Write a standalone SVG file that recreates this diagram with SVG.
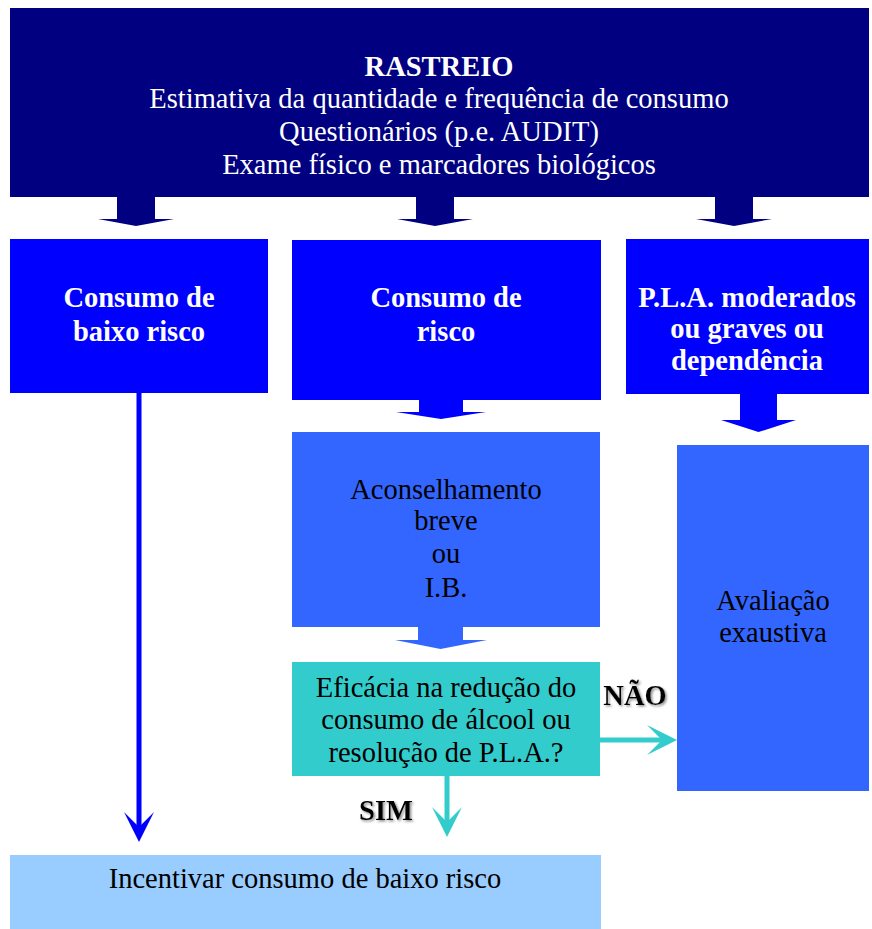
<svg xmlns="http://www.w3.org/2000/svg" width="872" height="929" viewBox="0 0 872 929">
<style>
text{font-family:"Liberation Serif","Times New Roman",serif;font-size:28.5px;text-anchor:middle}
.w{fill:#FFFFFF}
.b{font-weight:bold}
.k{fill:#000000}
.shd{filter:url(#shadow)}
</style>
<defs>
<filter id="shadow" x="-10%" y="-20%" width="130%" height="150%">
<feDropShadow dx="1.5" dy="1.5" stdDeviation="0.8" flood-color="#808080" flood-opacity="0.9"/>
</filter>
<marker id="ahB" markerUnits="userSpaceOnUse" viewBox="0 0 30 30" refX="15" refY="15" markerWidth="30" markerHeight="30" orient="auto">
<path d="M0,0 L30,15 L0,30 L15,15 Z" fill="#0000FF"/>
</marker>
<marker id="ahT" markerUnits="userSpaceOnUse" viewBox="0 0 30 30" refX="15" refY="15" markerWidth="30" markerHeight="30" orient="auto">
<path d="M0,0 L30,15 L0,30 L15,15 Z" fill="#33CCCC"/>
</marker>
</defs>
<rect width="872" height="929" fill="#FFFFFF"/>

<g id="rastreio">
<rect x="10" y="8" width="859" height="189" fill="#000080"/>
<text x="439" y="76" class="w b">RASTREIO</text>
<text x="439" y="108" class="w">Estimativa da quantidade e frequência de consumo</text>
<text x="439" y="141" class="w">Questionários (p.e. AUDIT)</text>
<text x="439" y="174" class="w">Exame físico e marcadores biológicos</text>
</g>

<g id="baixo-risco">
<rect x="10" y="239" width="258" height="154" fill="#0000FF"/>
<text x="139" y="307" class="w b">Consumo de</text>
<text x="139" y="341" class="w b">baixo risco</text>
</g>

<g id="consumo-risco">
<rect x="292" y="240" width="309" height="160" fill="#0000FF"/>
<text x="446" y="307" class="w b">Consumo de</text>
<text x="446" y="341" class="w b">risco</text>
</g>

<g id="pla">
<rect x="626" y="239" width="243" height="155" fill="#0000FF"/>
<text x="747" y="307" class="w b">P.L.A. moderados</text>
<text x="747" y="338" class="w b">ou graves ou</text>
<text x="747" y="370" class="w b">dependência</text>
</g>

<g id="aconselhamento">
<rect x="292" y="432" width="308" height="195" fill="#3366FF"/>
<text x="446" y="499" class="k">Aconselhamento</text>
<text x="446" y="530" class="k">breve</text>
<text x="446" y="563" class="k">ou</text>
<text x="446" y="597" class="k">I.B.</text>
</g>

<g id="avaliacao">
<rect x="677" y="445" width="192" height="346" fill="#3366FF"/>
<text x="773" y="610" class="k">Avaliação</text>
<text x="773" y="642" class="k">exaustiva</text>
</g>

<g id="eficacia">
<rect x="292" y="662" width="308" height="114" fill="#33CCCC"/>
<text x="446" y="697" class="k">Eficácia na redução do</text>
<text x="446" y="729" class="k">consumo de álcool ou</text>
<text x="446" y="762" class="k">resolução de P.L.A.?</text>
</g>

<g id="incentivar">
<rect x="10" y="855" width="591" height="74" fill="#99CCFF"/>
<text x="305" y="888" class="k">Incentivar consumo de baixo risco</text>
</g>

<g id="connectors">
<polygon points="117,197 155,197 155,219 174,219 136,226 98,219 117,219" fill="#000080"/>
<polygon points="416,197 454,197 454,219 473,219 435,226 397,219 416,219" fill="#000080"/>
<polygon points="715,197 753,197 753,219 772,219 734,226 696,219 715,219" fill="#000080"/>
<polygon points="419,400 463,400 463,412 486,412 441,419 396,412 419,412" fill="#0000FF"/>
<polygon points="740,394 777,394 777,420 796,420 758.5,432 721,420 740,420" fill="#0000FF"/>
<polygon points="418,627 463,627 463,640 487,640 440.5,649 395,640 418,640" fill="#3366FF"/>
<line x1="139" y1="393" x2="139" y2="827" stroke="#0000FF" stroke-width="5" marker-end="url(#ahB)"/>
<line x1="600" y1="740" x2="662" y2="740" stroke="#33CCCC" stroke-width="5" marker-end="url(#ahT)"/>
<line x1="447" y1="776" x2="447" y2="822" stroke="#33CCCC" stroke-width="5" marker-end="url(#ahT)"/>
<text x="635" y="705" class="k b shd">NÃO</text>
<text x="386" y="820" class="k b shd">SIM</text>
</g>
</svg>
